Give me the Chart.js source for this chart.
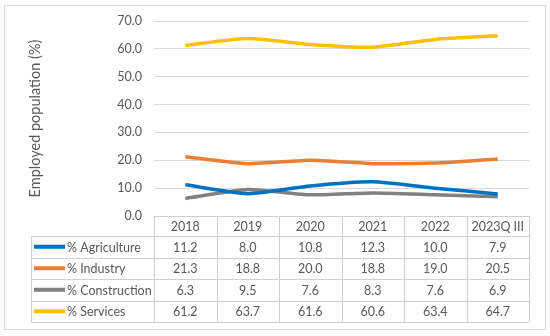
<!DOCTYPE html>
<html>
<head>
<meta charset="utf-8">
<script src="https://cdn.jsdelivr.net/npm/chart.js@4"></script>
<style>
  html, body { margin: 0; padding: 0; background: #fff; }
  #wrap { width: 550px; height: 336px; }
</style>
</head>
<body>
<div id="wrap"><canvas id="chart" width="550" height="336"></canvas></div>
<script>
const years = ['2018', '2019', '2020', '2021', '2022', '2023Q III'];
const agriculture = [11.2, 8.0, 10.8, 12.3, 10.0, 7.9];
const industry = [21.3, 18.8, 20.0, 18.8, 19.0, 20.5];
const construction = [6.3, 9.5, 7.6, 8.3, 7.6, 6.9];
const services = [61.2, 63.7, 61.6, 60.6, 63.4, 64.7];

const seriesNames = ['% Agriculture', '% Industry', '% Construction', '% Services'];
const seriesColors = ['#0070c0', '#ed7d31', '#808080', '#ffc000'];
const seriesData = [agriculture, industry, construction, services];

const textColor = '#595959';
const gridColor = '#d9d9d9';
const fontFamily = 'Lato, "Noto Sans", sans-serif';

// outer frame + data table under the plot
const tablePlugin = {
  id: 'dataTable',
  beforeDraw(chart) {
    const ctx = chart.ctx;
    ctx.save();
    ctx.fillStyle = '#fff';
    ctx.fillRect(0, 0, chart.width, chart.height);
    ctx.strokeStyle = gridColor;
    ctx.lineWidth = 1;
    ctx.strokeRect(4.5, 5.5, 541, 324);
    ctx.restore();
  },
  afterDraw(chart) {
    const ctx = chart.ctx;
    const xs = chart.scales.x;
    const left = xs.left, right = xs.right;
    const colW = (right - left) / years.length;
    const top = chart.chartArea.bottom;
    const headH = 20;
    const rowH = 21.5;
    const tableLeft = 31;
    const bottom = top + headH + rowH * seriesNames.length;

    ctx.save();
    ctx.strokeStyle = '#d0d0d0';
    ctx.lineWidth = 1;
    ctx.beginPath();
    // header row
    ctx.moveTo(left, top + 0.5); ctx.lineTo(right, top + 0.5);
    for (let r = 0; r <= seriesNames.length; r++) {
      const y = Math.round(top + headH + r * rowH) + 0.5;
      ctx.moveTo(tableLeft, y); ctx.lineTo(right, y);
    }
    ctx.moveTo(tableLeft + 0.5, top + headH); ctx.lineTo(tableLeft + 0.5, bottom);
    for (let c = 0; c <= years.length; c++) {
      const x = Math.round(left + c * colW) + 0.5;
      ctx.moveTo(x, top); ctx.lineTo(x, bottom);
    }
    ctx.stroke();

    ctx.font = '12.5px ' + fontFamily;
    ctx.fillStyle = textColor;
    ctx.textBaseline = 'middle';
    ctx.textAlign = 'center';
    years.forEach((y, i) => {
      ctx.fillText(y, xs.getPixelForValue(i), top + headH / 2 + 1);
    });
    seriesNames.forEach((name, r) => {
      const cy = top + headH + rowH * r + rowH / 2 + 1;
      ctx.strokeStyle = seriesColors[r];
      ctx.lineWidth = 4;
      ctx.beginPath();
      ctx.moveTo(34, cy - 1); ctx.lineTo(65, cy - 1);
      ctx.stroke();
      ctx.textAlign = 'left';
      ctx.fillStyle = textColor;
      ctx.fillText(name, 67, cy);
      ctx.textAlign = 'center';
      seriesData[r].forEach((v, i) => {
        ctx.fillText(v.toFixed(1), xs.getPixelForValue(i), cy);
      });
    });
    ctx.restore();
  }
};

new Chart(document.getElementById('chart'), {
  type: 'line',
  data: {
    labels: years,
    datasets: seriesNames.map((name, i) => ({
      label: name,
      data: seriesData[i],
      borderColor: seriesColors[i],
      backgroundColor: seriesColors[i],
      borderWidth: 3.5,
      pointRadius: 0,
      tension: 0.2,
      fill: false
    }))
  },
  options: {
    responsive: false,
    animation: false,
    layout: { padding: { left: 0, right: 21, top: 21, bottom: 120 } },
    plugins: {
      legend: { display: false },
      tooltip: { enabled: false }
    },
    scales: {
      x: {
        display: false,
        offset: true
      },
      y: {
        min: 0,
        max: 70,
        afterFit(scale) { scale.width = 154; },
        ticks: {
          stepSize: 10,
          padding: 12,
          color: textColor,
          font: { family: fontFamily, size: 12.5 },
          callback: v => Number(v).toFixed(1)
        },
        grid: { color: gridColor, drawTicks: false },
        border: { display: false },
        title: {
          display: true,
          text: 'Employed population (%)',
          color: textColor,
          font: { family: fontFamily, size: 14.5 },
          padding: { top: 27, bottom: 0 }
        }
      }
    }
  },
  plugins: [tablePlugin]
});
</script>
</body>
</html>
